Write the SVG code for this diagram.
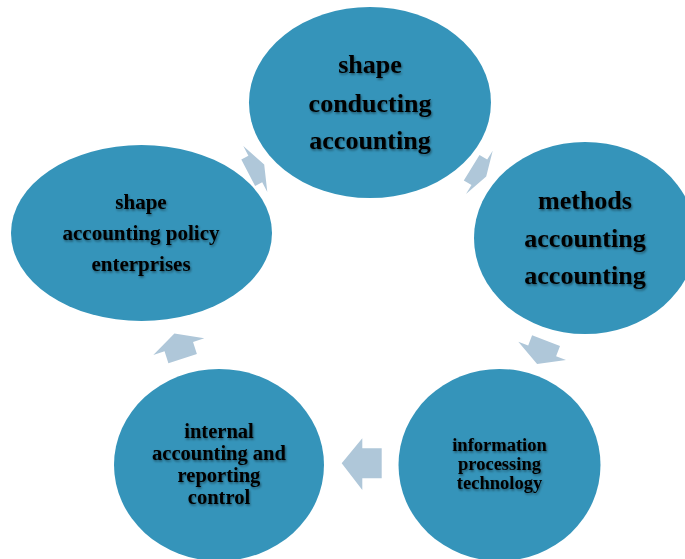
<svg xmlns="http://www.w3.org/2000/svg" width="685" height="559" viewBox="0 0 685 559">
  <defs>
    <filter id="txtShadow" x="-10%" y="-20%" width="120%" height="150%">
      <feDropShadow dx="1" dy="1.5" stdDeviation="1" flood-color="#000" flood-opacity="0.45"/>
    </filter>
    <style>
      .bg { fill: #ffffff; }
      .node { fill: #3594BA; }
      .arrow { fill: #AFC7D9; }
      .lbl { font-family: "Liberation Serif", "Times New Roman", serif; font-weight: bold; fill: #000; text-anchor: middle; filter: url(#txtShadow); }
      .big { font-size: 26px; }
      .mid { font-size: 21px; }
      .cmp { font-size: 20.5px; }
      .sml { font-size: 18.5px; }
    </style>
  </defs>

  <rect class="bg" x="0" y="0" width="685" height="559"/>

  <!-- cycle arrows: block arrows, tip first, then barb, shaft, back, shaft, barb -->
  <g id="connectors">
    <polygon class="arrow" points="264.2,164.4 243.3,146 248.4,155.7 241.3,159.4 255.1,186 262.2,182.3 267.3,192"/>
    <polygon class="arrow" points="486.2,176.5 492.7,150.7 487.2,159.6 479.5,154.9 463.8,180.4 471.5,185.1 466,194"/>
    <polygon class="arrow" points="537.1,363.9 518.3,341.7 528.2,345.5 532.1,335.2 560,345.9 556.1,356.2 566,360"/>
    <polygon class="arrow" points="341.7,463.3 362.3,438.3 362.3,448.3 381.7,448.3 381.7,478.3 362.3,478.3 362.3,490"/>
    <polygon class="arrow" points="174.4,333.4 153.3,355 164.55,351.3 168.4,363.2 196.9,353.9 193.05,342 204.3,338.3"/>
  </g>

  <g id="node-conducting">
    <ellipse class="node" cx="370" cy="102.5" rx="121" ry="95.5"/>
    <text class="lbl big" x="370" y="73">shape</text>
    <text class="lbl big" x="370" y="111.5">conducting</text>
    <text class="lbl big" x="370" y="149">accounting</text>
  </g>

  <g id="node-methods">
    <ellipse class="node" cx="585" cy="238" rx="111" ry="96"/>
    <text class="lbl big" x="585" y="208.5">methods</text>
    <text class="lbl big" x="585" y="246.5">accounting</text>
    <text class="lbl big" x="585" y="284">accounting</text>
  </g>

  <g id="node-technology">
    <ellipse class="node" cx="499.5" cy="465" rx="101" ry="96"/>
    <text class="lbl sml" x="499.5" y="450.5">information</text>
    <text class="lbl sml" x="499.5" y="470">processing</text>
    <text class="lbl sml" x="499.5" y="488.5">technology</text>
  </g>

  <g id="node-control">
    <ellipse class="node" cx="219" cy="465" rx="105" ry="96"/>
    <text class="lbl cmp" x="219" y="438">internal</text>
    <text class="lbl cmp" x="219" y="460">accounting and</text>
    <text class="lbl cmp" x="219" y="482">reporting</text>
    <text class="lbl cmp" x="219" y="503.5">control</text>
  </g>

  <g id="node-policy">
    <ellipse class="node" cx="141.5" cy="233" rx="130.5" ry="88"/>
    <text class="lbl mid" x="141" y="209">shape</text>
    <text class="lbl mid" x="141" y="240">accounting policy</text>
    <text class="lbl mid" x="141" y="271">enterprises</text>
  </g>
</svg>
